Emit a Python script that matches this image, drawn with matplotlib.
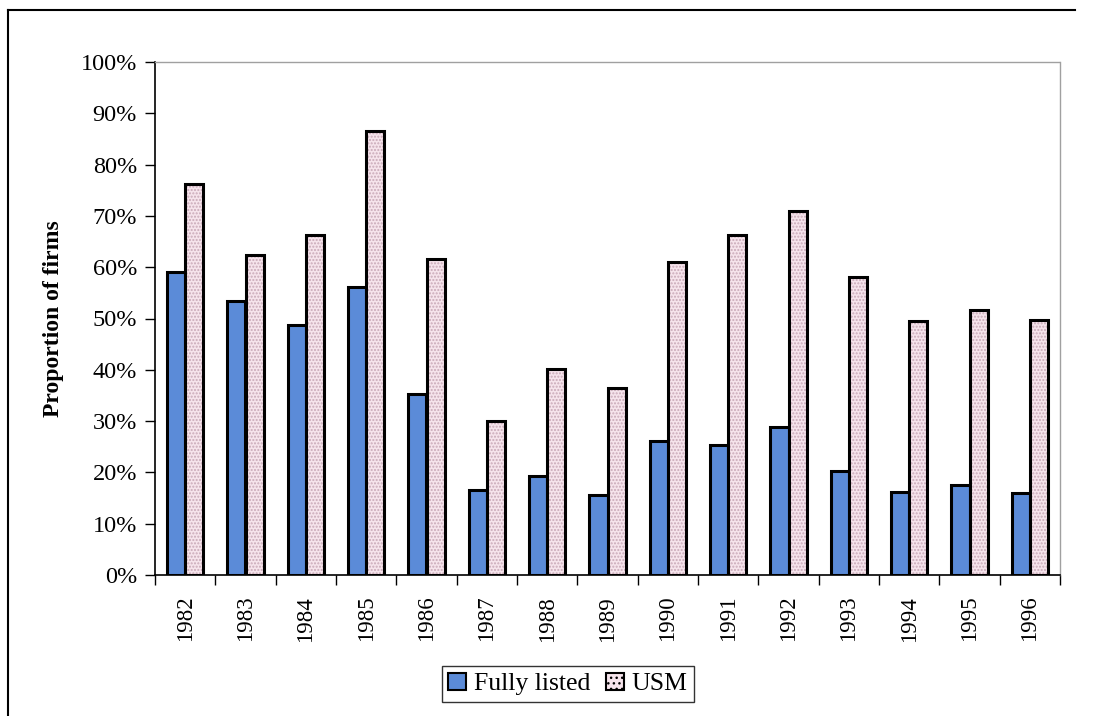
import matplotlib.pyplot as plt
import numpy as np
from matplotlib.lines import Line2D
from matplotlib.ticker import PercentFormatter, FixedLocator

plt.rcParams['font.family'] = ['Liberation Serif', 'DejaVu Serif']

years = ['1982', '1983', '1984', '1985', '1986', '1987', '1988', '1989',
         '1990', '1991', '1992', '1993', '1994', '1995', '1996']
fully_listed = [59.1, 53.4, 48.7, 56.1, 35.3, 16.6, 19.3, 15.6,
                26.1, 25.3, 28.8, 20.3, 16.2, 17.5, 16.0]
usm = [76.2, 62.4, 66.3, 86.5, 61.6, 30.0, 40.2, 36.5,
       61.0, 66.3, 71.0, 58.1, 49.5, 51.7, 49.7]

blue = '#5b8bd8'
pink = '#f6e4ec'

fig = plt.figure(figsize=(10.97, 7.16), dpi=100)
ax = fig.add_axes([155 / 1097, 1 - 575 / 716, 905 / 1097, 513 / 716])

x = np.arange(len(years))
w = 0.30
ax.bar(x - w / 2, fully_listed, w, color=blue, edgecolor='black', linewidth=2.2)
# dotted fill for USM, outline drawn separately so the dots stay pink
ax.bar(x + w / 2, usm, w, color=pink, edgecolor='#c9a9b8', hatch='.....', linewidth=0)
ax.bar(x + w / 2, usm, w, fill=False, edgecolor='black', linewidth=2.2)

ax.set_xlim(-0.5, len(years) - 0.5)
ax.set_ylim(0, 100)
ax.yaxis.set_major_locator(FixedLocator(np.arange(0, 101, 10)))
ax.yaxis.set_major_formatter(PercentFormatter(decimals=0))
ax.set_xticks(x)
ax.set_xticklabels(years, rotation=90, fontsize=16.5)
ax.tick_params(axis='x', length=0, pad=15)
ax.set_xticks(np.arange(-0.5, len(years), 1), minor=True)
ax.tick_params(axis='x', which='minor', length=7, width=1)
ax.tick_params(axis='y', labelsize=17.5, length=7, width=1, pad=6)

for s in ['top', 'right']:
    ax.spines[s].set_color('#a0a0a0')
    ax.spines[s].set_linewidth(1)
    ax.spines[s].set_linestyle((0, (3, 1)))
ax.spines['left'].set_linewidth(1.2)
ax.spines['bottom'].set_linewidth(1.2)

ax.set_ylabel('Proportion of firms', fontsize=17, fontweight='bold', labelpad=12)

handles = [plt.Rectangle((0, 0), 1, 1, facecolor=blue, edgecolor='black', linewidth=1.5),
           plt.Rectangle((0, 0), 1, 1, facecolor=pink, edgecolor='black', linewidth=1.5, hatch='...')]
fig.legend(handles, ['Fully listed', 'USM'], loc='center', ncol=2,
           bbox_to_anchor=(568 / 1097, 1 - 684 / 716), fontsize=18.5,
           frameon=True, fancybox=False, edgecolor='black', handlelength=0.7,
           handleheight=0.7, handletextpad=0.3, columnspacing=0.6,
           borderpad=0.25, borderaxespad=0)

# outer frame
fig.add_artist(Line2D([8 / 1097, 8 / 1097], [0, 1 - 10 / 716], color='black', linewidth=1.5))
fig.add_artist(Line2D([8 / 1097, 1075 / 1097], [1 - 10 / 716, 1 - 10 / 716], color='black', linewidth=1.5))

fig.savefig('out.png', dpi=100)
